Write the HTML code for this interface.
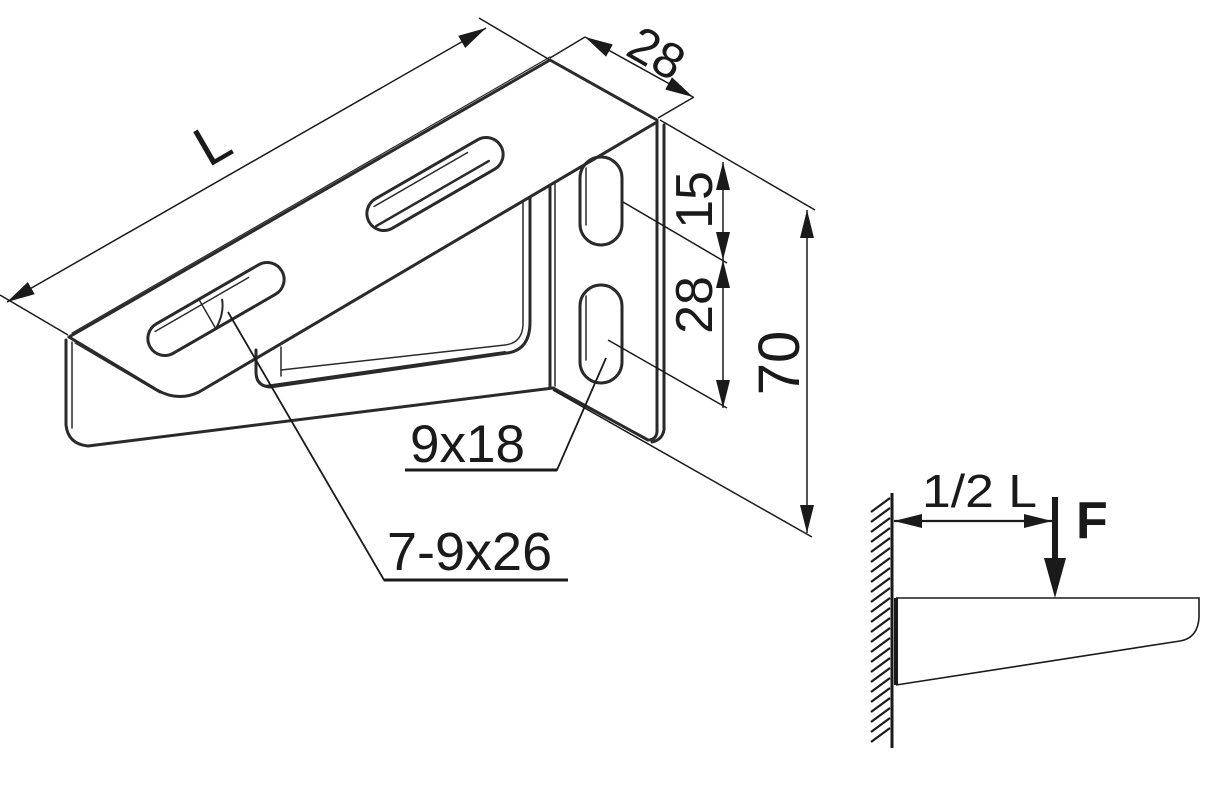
<!DOCTYPE html>
<html><head><meta charset="utf-8"><style>
html,body{margin:0;padding:0;background:#fff;}
svg{display:block;}
text{font-family:"Liberation Sans",sans-serif;fill:#1a1a1a;}
</style></head><body>
<svg width="1209" height="799" viewBox="0 0 1209 799" xmlns="http://www.w3.org/2000/svg">
<defs>
<marker id="ah" viewBox="0 0 28 14" refX="28" refY="7" markerWidth="28" markerHeight="14" markerUnits="userSpaceOnUse" orient="auto-start-reverse">
<path d="M0,0 L28,7 L0,14 z" fill="#1a1a1a"/></marker>
<marker id="ah2" viewBox="0 0 40 16" refX="40" refY="8" markerWidth="40" markerHeight="16" markerUnits="userSpaceOnUse" orient="auto-start-reverse">
<path d="M0,0 L40,8 L0,16 z" fill="#1a1a1a"/></marker>
</defs>
<g fill="none" stroke="#2a2a2a" stroke-width="3" stroke-linejoin="round" stroke-linecap="round">
<path d="M69,337 L550,60 L657,120"/>
<path d="M72,333 L550,57" stroke-width="1.2"/>
<path d="M69,337 L157,390 Q178,402 199,392 L657,122"/>
<path d="M75,343 L160,393" stroke-width="1.2"/>
<path d="M66,340 L66,425 Q68,444 88,446 L553,388"/>
<path d="M72,342 L72,428" stroke-width="1.5"/>
<path d="M550,187 L550,388"/>
<path d="M555,184 L555,386" stroke-width="1.5"/>
<path d="M530,198 L530,322 Q530,350 507,353 L270,387 Q256,386 256,372 L256,350"/>
<path d="M523,202 L523,325 Q522,343 505,345 L281,370" stroke-width="1.5"/>
<path d="M281,347 L281,376" stroke-width="1.5"/>
<path d="M265,386 L505,352" stroke-width="2"/>
<path d="M657,122 L657,432 Q656,440 648,440 L553,388"/>
<path d="M664,125 L664,430 Q662,440 652,442" />
<g transform="translate(216,309) rotate(-30)">
<rect x="-76" y="-17" width="152" height="34" rx="17"/>
<path d="M-64,-11 L44,-11" stroke-width="1.5"/>
<path d="M-10,-17 L-10,17" stroke-width="1.5"/>
<path d="M-10,17 Q5,8 10,-5" stroke-width="2"/>
</g>
<g transform="translate(435,184) rotate(-30)">
<rect x="-76" y="-17" width="152" height="34" rx="17"/>
<path d="M-64,-11 L44,-11" stroke-width="1.5"/>
<path d="M-72,7 L58,7" stroke-width="2.5"/>
</g>
<rect x="580" y="157" width="42" height="88" rx="21"/>
<path d="M586,168 L586,225" stroke-width="1.5"/>
<rect x="580" y="285" width="42" height="98" rx="21"/>
<path d="M586,296 L586,360" stroke-width="1.5"/>
</g>
<g fill="none" stroke="#1a1a1a" stroke-width="1.5">
<line x1="0" y1="295" x2="68" y2="335"/>
<line x1="479" y1="18" x2="550" y2="60"/>
<line x1="7" y1="302" x2="486" y2="28" marker-start="url(#ah)" marker-end="url(#ah)"/>
<line x1="550" y1="58" x2="585" y2="37"/>
<line x1="658" y1="118" x2="694" y2="97"/>
<line x1="585" y1="37" x2="693" y2="97" marker-start="url(#ah)" marker-end="url(#ah)"/>
<line x1="660" y1="120" x2="815" y2="210"/>
<line x1="623" y1="202" x2="727" y2="263"/>
<line x1="608" y1="340" x2="727" y2="408"/>
<line x1="553" y1="390" x2="812" y2="537"/>
<line x1="723" y1="162" x2="723" y2="260" marker-start="url(#ah)" marker-end="url(#ah)"/>
<line x1="723" y1="260" x2="723" y2="408" marker-start="url(#ah)" marker-end="url(#ah)"/>
<line x1="807" y1="210" x2="807" y2="533" marker-start="url(#ah)" marker-end="url(#ah)"/>
<polyline points="405,470 557,470 606,358" stroke-width="1.8"/>
<polyline points="228,312 384,580 568,580" stroke-width="1.8"/>
<line x1="405" y1="470" x2="557" y2="470" stroke-width="3"/>
<line x1="384" y1="580" x2="568" y2="580" stroke-width="3"/>
</g>
<text x="0" y="0" font-size="56" transform="translate(222,160) rotate(-30)" text-anchor="middle">L</text>
<text x="0" y="0" font-size="50" transform="translate(648,68) rotate(30)" text-anchor="middle">28</text>
<text x="0" y="0" font-size="52" transform="translate(712,200) rotate(-90)" text-anchor="middle">15</text>
<text x="0" y="0" font-size="52" transform="translate(712,305) rotate(-90)" text-anchor="middle">28</text>
<text x="0" y="0" font-size="58" transform="translate(799,363) rotate(-90)" text-anchor="middle">70</text>
<text x="410" y="462" font-size="53">9x18</text>
<text x="387" y="570" font-size="54">7-9x26</text>
<g stroke="#1a1a1a" fill="none">
<line x1="892" y1="493" x2="892" y2="748" stroke-width="3"/>
<path d="M871,512 L890,498 M871,522 L890,508 M871,532 L890,518 M871,542 L890,528 M871,552 L890,538 M871,562 L890,548 M871,572 L890,558 M871,582 L890,568 M871,592 L890,578 M871,602 L890,588 M871,612 L890,598 M871,622 L890,608 M871,632 L890,618 M871,642 L890,628 M871,652 L890,638 M871,662 L890,648 M871,672 L890,658 M871,682 L890,668 M871,692 L890,678 M871,702 L890,688 M871,712 L890,698 M871,722 L890,708 M871,732 L890,718 M871,742 L890,728" stroke-width="2.2"/>
<path d="M896,598 L1199,598 L1199,617 Q1198,638 1180,641 L896,685" stroke-width="1.6"/>
<line x1="896" y1="598" x2="896" y2="685" stroke-width="4"/>
<line x1="894" y1="521" x2="1052" y2="521" stroke-width="2.2" marker-start="url(#ah)" marker-end="url(#ah)"/>
<line x1="1055" y1="497" x2="1055" y2="565" stroke-width="6"/>
</g>
<path d="M1044,558 L1066,558 L1055,598 z" fill="#1a1a1a"/>
<text x="922" y="507" font-size="46" textLength="115" lengthAdjust="spacingAndGlyphs">1/2 L</text>
<text x="1076" y="538" font-size="52" font-weight="bold">F</text>
</svg>
</body></html>
